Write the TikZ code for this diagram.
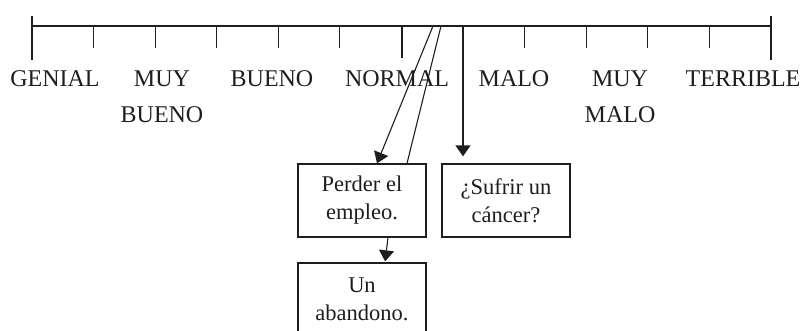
\documentclass[tikz,border=0pt]{standalone}
\usepackage{fontspec}
\setmainfont{Liberation Serif}
\usetikzlibrary{arrows.meta}
\definecolor{ink}{HTML}{1E1E1E}
\tikzset{
  axisline/.style={draw=ink, line width=1.1pt},
  tickmark/.style={draw=ink, line width=1.1pt},
  endtick/.style={draw=ink, line width=2.2pt},
  lbl/.style={text=ink, font=\fontsize{24}{36}\selectfont, align=center, anchor=base, inner sep=0pt},
  boxnode/.style={draw=ink, line width=1.3pt, minimum width=128pt, minimum height=73pt, inner sep=0pt, text=ink, font=\fontsize{22.5}{28}\selectfont, align=center},
  link/.style={draw=ink, line width=1.1pt},
  arr/.style={link, -{Triangle[width=15pt,length=11pt]}}
}
\begin{document}
\begin{tikzpicture}[x=1pt,y=-1pt]
\useasboundingbox (0,0) rectangle (804,331);
\clip (0,0) rectangle (804,331);
% axis
\coordinate (a0) at (32,26);
\coordinate (a12) at (771,26);
\draw[axisline] (a0) -- (a12);
\draw[endtick] (32,16) -- (32,60);
\draw[endtick] (771,16) -- (771,60);
\foreach \i in {1,2,3,4,5,8,9,10,11}{
  \draw[tickmark] ({32+\i*61.58},26) -- ({32+\i*61.58},48);
}
\draw[tickmark] (402,26) -- (402,58);
% labels (base anchor = last line's baseline)
\node[lbl] (genial) at (55,87) {GENIAL};
\node[lbl] (muybueno) at (162,123) {MUY\\BUENO};
\node[lbl] (bueno) at (272,87) {BUENO};
\node[lbl] (normal) at (397,87) {NORMAL};
\node[lbl] (malo) at (514,87) {MALO};
\node[lbl] (muymalo) at (620,123) {MUY\\MALO};
\node[lbl] (terrible) at (743,87) {TERRIBLE};
% boxes
\node[boxnode] (perder) at (362,200.5) {Perder el\\empleo.};
\node[boxnode] (sufrir) at (506,200.5) {¿Sufrir un\\cáncer?};
\node[boxnode] (abandono) at (362,299.5) {Un\\abandono.};
% connectors
\coordinate (s1) at (433,26);
\coordinate (s2) at (441,26);
\coordinate (s3) at (463,26);
\draw[arr] (s1) -- ([xshift=15pt]perder.north);
\draw[link] (s2) -- ([xshift=45pt]perder.north);
\draw[arr, line width=1.6pt, shorten >=7pt] (s3) -- ([xshift=-43pt]sufrir.north);
\draw[arr, shorten >=1pt] ([xshift=26pt]perder.south) -- ([xshift=23pt]abandono.north);
\end{tikzpicture}
\end{document}
